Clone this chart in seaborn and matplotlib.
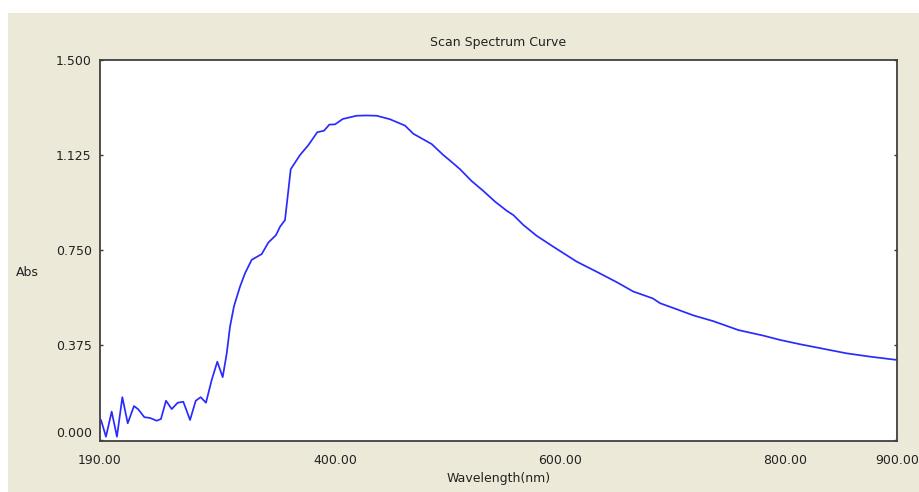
import matplotlib
matplotlib.use("Agg")
import matplotlib.pyplot as plt
import seaborn as sns
import pandas as pd
from matplotlib.patches import Rectangle

wavelength = [190.9, 195.3, 200.4, 205.1, 209.9, 214.7, 220.3, 224.1, 229.5, 234.5,
              240.5, 244.3, 248.8, 253.9, 259.2, 264.2, 270.2, 275.3, 279.7, 284.4,
              289.5, 294.5, 299.3, 302.9, 305.8, 309.4, 314.7, 319.2, 325.1, 334.1,
              339.9, 346.8, 350.4, 354.8, 356.9, 359.9, 368.2, 375.6, 383.6, 389.6,
              394.3, 399.4, 406.2, 418.6, 427.0, 436.5, 448.4, 461.7, 469.1, 485.5,
              495.8, 501.8, 510.7, 521.1, 531.5, 541.9, 552.3, 558.2, 567.1, 579.0,
              593.8, 614.7, 632.5, 650.3, 665.1, 682.4, 688.9, 703.8, 718.5, 736.4,
              758.6, 780.9, 795.8, 813.6, 834.4, 855.2, 876.0, 899.8]
absorbance = [0.079, 0.013, 0.112, 0.013, 0.169, 0.066, 0.134, 0.121, 0.090, 0.087,
              0.076, 0.083, 0.155, 0.122, 0.147, 0.151, 0.079, 0.155, 0.169, 0.147,
              0.237, 0.309, 0.248, 0.342, 0.447, 0.529, 0.605, 0.658, 0.711, 0.734,
              0.779, 0.809, 0.842, 0.868, 0.950, 1.069, 1.125, 1.164, 1.215, 1.221,
              1.245, 1.246, 1.267, 1.280, 1.281, 1.280, 1.266, 1.241, 1.209, 1.168,
              1.125, 1.103, 1.069, 1.022, 0.983, 0.941, 0.905, 0.888, 0.849, 0.806,
              0.763, 0.704, 0.664, 0.623, 0.586, 0.559, 0.540, 0.516, 0.492, 0.469,
              0.434, 0.412, 0.395, 0.378, 0.360, 0.342, 0.329, 0.316]

x_ticks = [190, 400, 600, 800, 900]
x_tick_labels = ["190.00", "400.00", "600.00", "800.00", "900.00"]
y_ticks = [0.0, 0.375, 0.75, 1.125, 1.5]
y_tick_labels = ["0.000", "0.375", "0.750", "1.125", "1.500"]

sns.set_style("white")
plt.rcParams["font.family"] = ["DejaVu Sans"]

W, H = 920, 492
fig = plt.figure(figsize=(W / 100, H / 100), dpi=100, facecolor="white")
fig.patches.append(Rectangle((8 / W, 0), 1, 1 - 13 / H, transform=fig.transFigure,
                             facecolor="#ECE9D8", edgecolor="none", zorder=-10))

ax = fig.add_axes([100 / W, 1 - 441 / H, 797 / W, 381 / H])
ax.set_facecolor("white")

df = pd.DataFrame({"Wavelength": wavelength, "Abs": absorbance})
sns.lineplot(data=df, x="Wavelength", y="Abs", ax=ax, color="#2a2aff",
             linewidth=1.25, sort=False, estimator=None)

ax.set_xlim(190, 900)
ax.set_ylim(-0.004, 1.5)
ax.set_xticks(x_ticks)
ax.set_xticklabels(x_tick_labels)
ax.set_yticks(y_ticks)
ax.set_yticklabels(y_tick_labels)

ax.tick_params(axis="x", direction="in", length=4, width=1, colors="#333333",
               labelsize=9, pad=9, labelcolor="#222222")
ax.tick_params(axis="y", direction="in", length=2.5, width=1, colors="#333333",
               labelsize=9, pad=6, labelcolor="#222222", right=True, left=True)

for s in ax.spines.values():
    s.set_color("#404040")
    s.set_linewidth(1.3)

ax.yaxis.get_major_ticks()[0].label1.set_verticalalignment("bottom")

ax.set_xlabel("Wavelength(nm)", fontsize=9, color="#222222", labelpad=4)
ax.set_ylabel("")
ax.set_title("Scan Spectrum Curve", fontsize=9, color="#222222", pad=10)
fig.text(27 / W, 1 - 272 / H, "Abs", fontsize=9, color="#222222",
         ha="center", va="center")

fig.savefig("out.png", dpi=100, facecolor=fig.get_facecolor())
